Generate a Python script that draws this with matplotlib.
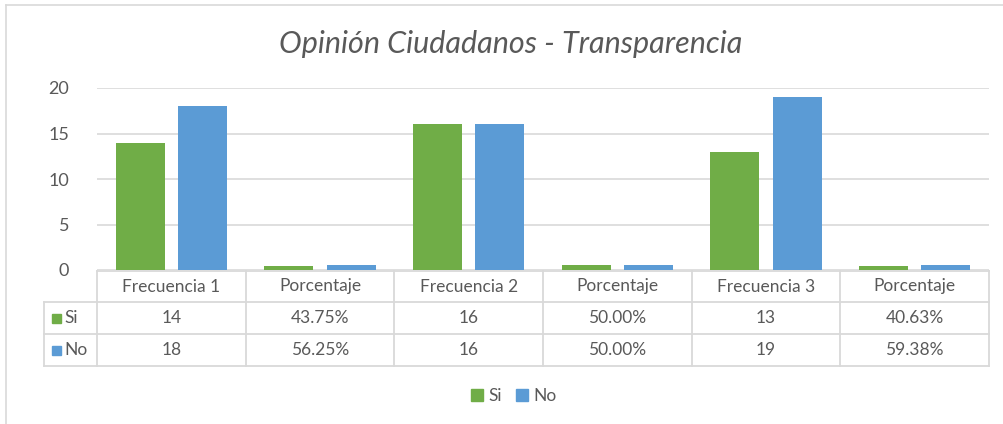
import matplotlib.pyplot as plt
import matplotlib.transforms as mtransforms
from matplotlib.patches import Patch
import numpy as np

plt.rcParams['font.family'] = ['Lato', 'DejaVu Sans']

categories = ["Frecuencia 1", "Porcentaje", "Frecuencia 2", "Porcentaje", "Frecuencia 3", "Porcentaje"]
si = [14, 0.4375, 16, 0.50, 13, 0.4063]
no = [18, 0.5625, 16, 0.50, 19, 0.5938]
is_pct = [False, True, False, True, False, True]
series = ["Si", "No"]
colors = ["#70AD47", "#5B9BD5"]

W, H = 1004, 424
fig = plt.figure(figsize=(W / 100, H / 100), dpi=100)

def fx(px):
    return px / W

def fy(py):
    return 1 - py / H

# plot area (pixel positions from the reference)
left, right, top, bottom = 97, 989, 88, 270
ax = fig.add_axes([fx(left), fy(bottom), fx(right - left), (bottom - top) / H])

x = np.arange(len(categories))
bw = 0.33
ax.bar(x + 0.5 - 0.21, si, width=bw, color=colors[0], zorder=2)
ax.bar(x + 0.5 + 0.21, no, width=bw, color=colors[1], zorder=2)

ax.set_xlim(0, len(categories))
ax.set_ylim(0, 20)
ax.set_yticks([0, 5, 10, 15, 20])
ax.yaxis.grid(True, color="#D9D9D9", linewidth=1.2, zorder=0)
ax.set_xticks([])
for s in ax.spines.values():
    s.set_visible(False)
ax.tick_params(axis="y", length=0, pad=20, labelsize=13, labelcolor="#595959")

# title
fig.text(fx(511), fy(44), "Opinión Ciudadanos - Transparencia", ha="center", va="center",
         fontsize=22, style="italic", color="#595959")

# data table under the plot
blend = mtransforms.blended_transform_factory(ax.transData, fig.transFigure)
grid_c = "#D9D9D9"
rows_y = [271, 302, 334, 366]
x_lab = (44 - left) / ((right - left) / len(categories))
n = len(categories)

ax.plot([0, n], [fy(rows_y[0])] * 2, color=grid_c, lw=1.3, transform=blend, clip_on=False)
for yy in rows_y[1:]:
    ax.plot([x_lab, n], [fy(yy)] * 2, color=grid_c, lw=1.3, transform=blend, clip_on=False)
for i in range(n + 1):
    ax.plot([i, i], [fy(rows_y[0]), fy(rows_y[-1])], color=grid_c, lw=1.3, transform=blend, clip_on=False)
ax.plot([x_lab, x_lab], [fy(rows_y[1]), fy(rows_y[-1])], color=grid_c, lw=1.3, transform=blend, clip_on=False)

def fmt(v, pct):
    return "{:.2f}%".format(v * 100) if pct else "{:d}".format(int(v))

for i, cat in enumerate(categories):
    yc = fy((rows_y[0] + rows_y[1]) / 2)
    ax.text(i + 0.5, yc, cat, ha="center", va="center", fontsize=12.5, color="#595959",
            transform=blend)
    for r, vals in enumerate([si, no]):
        yc = fy((rows_y[r + 1] + rows_y[r + 2]) / 2)
        ax.text(i + 0.5, yc, fmt(vals[i], is_pct[i]), ha="center", va="center",
                fontsize=12.5, color="#595959", transform=blend)

for r, name in enumerate(series):
    yc = fy((rows_y[r + 1] + rows_y[r + 2]) / 2)
    fig.patches.append(plt.Rectangle((fx(52), yc - 4.5 / H), 9 / W, 9 / H, color=colors[r],
                                     transform=fig.transFigure, figure=fig))
    fig.text(fx(64), yc, name, ha="left", va="center", fontsize=12.5, color="#595959")

# legend
handles = [Patch(color=c, label=s) for c, s in zip(colors, series)]
fig.legend(handles=handles, loc="center", bbox_to_anchor=(fx(514), fy(396)), ncol=2,
           frameon=False, fontsize=12.5, labelcolor="#595959", handlelength=0.7,
           handleheight=0.7, handletextpad=0.3, columnspacing=0.8)

# chart border
fig.add_artist(plt.Line2D([fx(6), fx(6)], [fy(5), 0], color="#D9D9D9", lw=1.2))
fig.add_artist(plt.Line2D([fx(6), 1], [fy(5), fy(5)], color="#D9D9D9", lw=1.2))

fig.savefig("out.png", dpi=100)
